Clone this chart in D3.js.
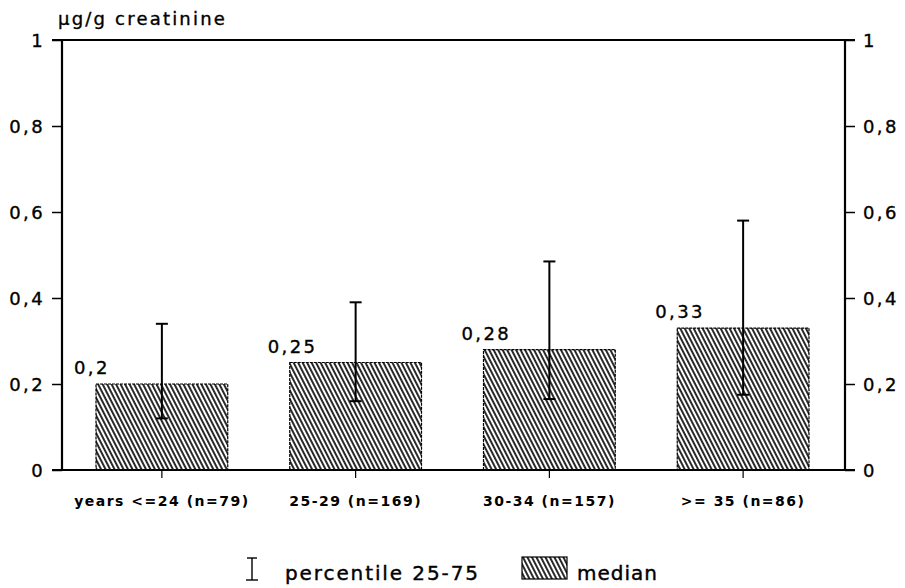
<!DOCTYPE html>
<html>
<head>
<meta charset="utf-8">
<script src="https://cdn.jsdelivr.net/npm/d3@7"></script>
<style>
  body { margin: 0; background: #fff; }
  svg text { font-family: "DejaVu Sans", sans-serif; fill: #000; }
</style>
</head>
<body>
<div id="chart"></div>
<script>
////////// data //////////
const categories = ["years <=24 (n=79)", "25-29 (n=169)", "30-34 (n=157)", ">= 35 (n=86)"];
const medians = [0.2, 0.25, 0.28, 0.33];
const medianLabels = ["0,2", "0,25", "0,28", "0,33"];
const p25 = [0.12, 0.16, 0.165, 0.175];
const p75 = [0.34, 0.39, 0.485, 0.58];
const yTicks = [0, 0.2, 0.4, 0.6, 0.8, 1];
const yTickLabels = ["0", "0,2", "0,4", "0,6", "0,8", "1"];

const width = 905, height = 588;
const plotLeft = 62, plotRight = 845, plotTop = 40, plotBottom = 470;

const svg = d3.select("#chart").append("svg")
  .attr("width", width)
  .attr("height", height);

// hatch pattern "\\\\"
const defs = svg.append("defs");
defs.append("pattern")
  .attr("id", "hatch")
  .attr("patternUnits", "userSpaceOnUse")
  .attr("width", 4)
  .attr("height", 10)
  .attr("patternTransform", "rotate(-27)")
  .append("line")
  .attr("x1", 1).attr("y1", -2)
  .attr("x2", 1).attr("y2", 12)
  .attr("stroke", "#111")
  .attr("stroke-width", 1.8);

const x = d3.scaleBand()
  .domain(categories)
  .range([65, 840])
  .paddingInner(0.32)
  .paddingOuter(0.16);

const y = d3.scaleLinear()
  .domain([0, 1])
  .range([plotBottom, plotTop]);

// left axis
const yLeft = d3.axisLeft(y).tickValues(yTicks)
  .tickFormat((d, i) => yTickLabels[i]).tickSize(10).tickPadding(7);
const gl = svg.append("g").attr("transform", `translate(${plotLeft},0)`).call(yLeft);

// right axis
const yRight = d3.axisRight(y).tickValues(yTicks)
  .tickFormat((d, i) => yTickLabels[i]).tickSize(10).tickPadding(8);
const gr = svg.append("g").attr("transform", `translate(${plotRight},0)`).call(yRight);

[gl, gr].forEach(g => {
  g.attr("font-family", null);
  g.select(".domain").remove();
  g.selectAll(".tick line").attr("stroke", "#000").attr("stroke-width", 1.5);
  g.selectAll(".tick text")
    .attr("font-size", 18)
    .attr("letter-spacing", "2.4px")
    .attr("stroke", "#000").attr("stroke-width", 0.35)
    .attr("dy", "0.36em");
});

// frame lines
svg.append("line").attr("x1", plotLeft).attr("x2", plotLeft).attr("y1", y(1)).attr("y2", y(0))
  .attr("stroke", "#000").attr("stroke-width", 2.2);
svg.append("line").attr("x1", plotRight).attr("x2", plotRight).attr("y1", y(1)).attr("y2", y(0))
  .attr("stroke", "#000").attr("stroke-width", 2.2);
svg.append("line").attr("x1", plotLeft - 10).attr("x2", plotRight + 10).attr("y1", y(1)).attr("y2", y(1))
  .attr("stroke", "#000").attr("stroke-width", 2.2);

// bottom axis
const xAxis = d3.axisBottom(x).tickSize(8).tickPadding(18);
const gx = svg.append("g").attr("transform", `translate(0,${plotBottom})`).call(xAxis);
gx.attr("font-family", null);
gx.select(".domain").remove();
gx.selectAll(".tick line").attr("stroke", "#000").attr("stroke-width", 1.2);
gx.selectAll(".tick text")
  .attr("font-size", 14)
  .attr("font-weight", "bold")
  .attr("letter-spacing", "1.5px");
svg.append("line").attr("x1", plotLeft - 10).attr("x2", plotRight + 10).attr("y1", y(0)).attr("y2", y(0))
  .attr("stroke", "#000").attr("stroke-width", 2.2);

// y title
svg.append("text")
  .attr("x", 58).attr("y", 25)
  .attr("font-size", 18)
  .attr("letter-spacing", "2.2px")
  .attr("stroke", "#000").attr("stroke-width", 0.35)
  .text("µg/g creatinine");

// bars
svg.append("g").selectAll("rect")
  .data(categories)
  .enter().append("rect")
  .attr("x", d => x(d))
  .attr("y", (d, i) => y(medians[i]))
  .attr("width", x.bandwidth())
  .attr("height", (d, i) => y(0) - y(medians[i]))
  .attr("fill", "url(#hatch)")
  .attr("stroke", "#000")
  .attr("stroke-width", 1.2)
  .attr("stroke-dasharray", "3,1");

// value labels
svg.append("g").selectAll("text")
  .data(categories)
  .enter().append("text")
  .attr("x", d => x(d) - 22)
  .attr("y", (d, i) => y(medians[i]) - 10)
  .attr("font-size", 18)
  .attr("letter-spacing", "2.4px")
  .attr("stroke", "#000").attr("stroke-width", 0.35)
  .text((d, i) => medianLabels[i]);

// error bars (percentile 25-75)
const err = svg.append("g").attr("stroke", "#000").attr("stroke-width", 2);
categories.forEach((c, i) => {
  const cx = x(c) + x.bandwidth() / 2;
  err.append("line").attr("x1", cx).attr("x2", cx).attr("y1", y(p75[i])).attr("y2", y(p25[i]));
  err.append("line").attr("x1", cx - 6).attr("x2", cx + 6).attr("y1", y(p75[i])).attr("y2", y(p75[i]));
  err.append("line").attr("x1", cx - 6).attr("x2", cx + 6).attr("y1", y(p25[i])).attr("y2", y(p25[i]));
});

// legend
const lg = svg.append("g");
lg.append("line").attr("x1", 252).attr("x2", 252).attr("y1", 558).attr("y2", 580)
  .attr("stroke", "#000").attr("stroke-width", 1.4);
lg.append("line").attr("x1", 247).attr("x2", 257).attr("y1", 558).attr("y2", 558)
  .attr("stroke", "#000").attr("stroke-width", 1.4);
lg.append("line").attr("x1", 246).attr("x2", 258).attr("y1", 580).attr("y2", 580)
  .attr("stroke", "#000").attr("stroke-width", 1.4);
lg.append("text").attr("x", 285).attr("y", 580).attr("font-size", 20)
  .attr("letter-spacing", "1.9px")
  .attr("stroke", "#000").attr("stroke-width", 0.4)
  .text("percentile 25-75");
lg.append("rect").attr("x", 522).attr("y", 557).attr("width", 45).attr("height", 22)
  .attr("fill", "url(#hatch)").attr("stroke", "#000").attr("stroke-width", 1.2);
lg.append("text").attr("x", 577).attr("y", 580).attr("font-size", 20)
  .attr("letter-spacing", "1px")
  .attr("stroke", "#000").attr("stroke-width", 0.4)
  .text("median");
</script>
</body>
</html>
